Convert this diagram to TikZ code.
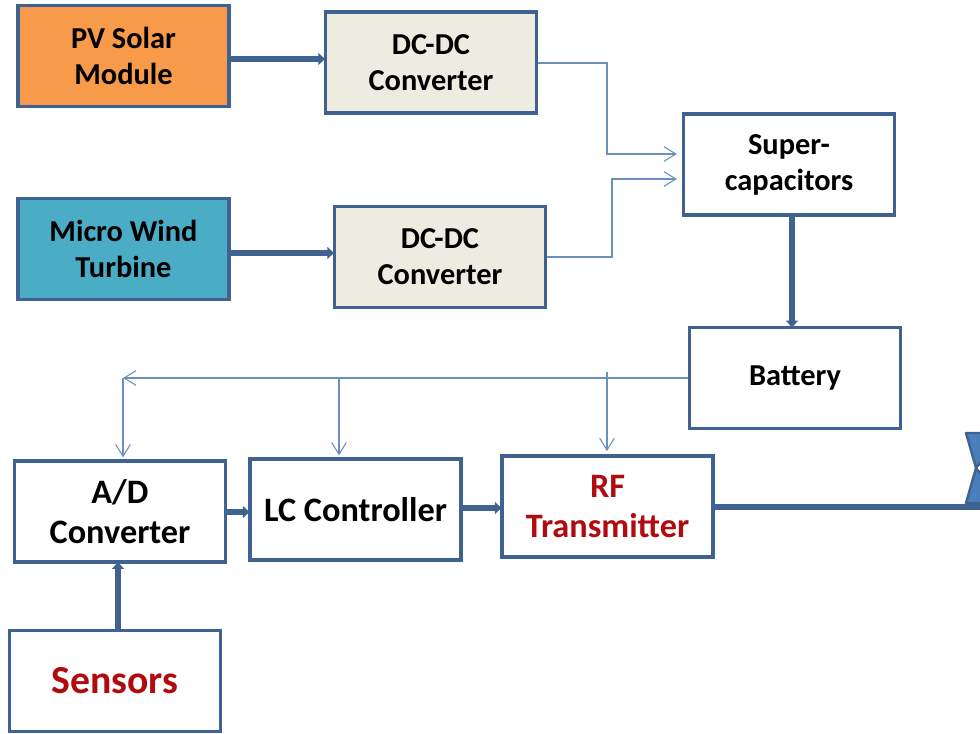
\documentclass[tikz,border=0pt]{standalone}
\usepackage{fontspec}
\setmainfont{Carlito}
\usetikzlibrary{arrows.meta,calc}
\definecolor{edge}{HTML}{3F6291}
\definecolor{thin}{HTML}{6A90BF}
\definecolor{antfill}{HTML}{4A7EBB}
\definecolor{pvfill}{HTML}{F79A4A}
\definecolor{windfill}{HTML}{4BACC6}
\definecolor{convfill}{HTML}{EEECE1}
\definecolor{redtext}{HTML}{B00C10}
\tikzset{
  blockbox/.style={draw=edge,line width=2.6pt,fill=white,minimum width=158.5pt,minimum height=75.5pt,
    align=center,inner sep=0pt,font=\fontsize{22.8}{27}\selectfont\bfseries,text=black},
  bigtext/.style={font=\fontsize{25.7}{30}\selectfont\bfseries},
  thickline/.style={draw=edge,line width=4.6pt,-{Triangle[length=5pt,width=9pt,fill=edge]},shorten >=-1pt},
  thinline/.style={draw=thin,line width=0.8pt,-{Straight Barb[length=9pt,width=11pt,line width=0.8pt]}},
}
\begin{document}
\begin{tikzpicture}[x=0.75pt,y=-0.75pt]
\useasboundingbox (0,0) rectangle (980,733);
\node[blockbox,fill=pvfill] (pv) at (123.5,56) {PV Solar\\Module};
\node[blockbox,fill=convfill] (dca) at (431,62.5) {DC-DC\\Converter};
\node[blockbox] (super) at (789,164.5) {Super-\\capacitors};
\node[blockbox,fill=windfill] (wind) at (123.5,249) {Micro Wind\\Turbine};
\node[blockbox,fill=convfill] (dcb) at (440,257) {DC-DC\\Converter};
\node[blockbox] (batt) at (795,378) {Battery};
\node[blockbox,bigtext] (ad) at (120,511.5) {A/D\\Converter};
\node[blockbox,bigtext] (lc) at (355.5,509.5) {LC Controller};
\node[blockbox,bigtext,text=redtext] (rf) at (607.5,506.5) {RF\\Transmitter};
\node[blockbox,text=redtext,font=\fontsize{29.8}{32}\selectfont\bfseries] (sens) at (115,681) {Sensors};

\coordinate (busleft) at (123,378);
\coordinate (busmid) at (339,378);
\coordinate (bustop) at (607,372);
\coordinate (antend) at (980,507);

\draw[thickline] (pv.east |- 0,59) -- (dca.west |- 0,59);
\draw[thickline] (wind.east |- 0,253) -- (dcb.west |- 0,253);
\draw[thickline] (super.south -| 792,0) -- (batt.north -| 792,0);
\draw[thickline] (ad.east |- 0,512) -- (lc.west |- 0,512);
\draw[thickline] (lc.east |- 0,508) -- (rf.west |- 0,508);
\draw[thickline] (118,630) -- (ad.south -| 118,0);
\draw[thinline,shorten >=3.5pt] (dca.east |- 0,63) -- (607,63) -- (607,154) -- (super.west |- 0,154);
\draw[thinline,shorten >=3.5pt] (dcb.east |- 0,257) -- (612,257) -- (612,179) -- (super.west |- 0,179);
\draw[thinline] (batt.west) -- (busleft);
\draw[thinline,shorten >=1.5pt] (busleft) -- (ad.north -| busleft);
\draw[thinline,shorten >=1.5pt] (busmid) -- (lc.north -| busmid);
\draw[thinline,shorten >=2.5pt] (bustop) -- (rf.north -| bustop);

\begin{scope}
\clip (0,0) rectangle (980,733);
\draw[draw=edge,fill=antfill,line width=1.8pt,line join=round]
  (966,433) -- (1004,433) -- (976,468) -- (1004,503) -- (966,503) -- (976,468) -- cycle;
\draw[draw=edge,line width=4.6pt] (rf.east |- antend) -- (antend);
\end{scope}
\end{tikzpicture}
\end{document}
